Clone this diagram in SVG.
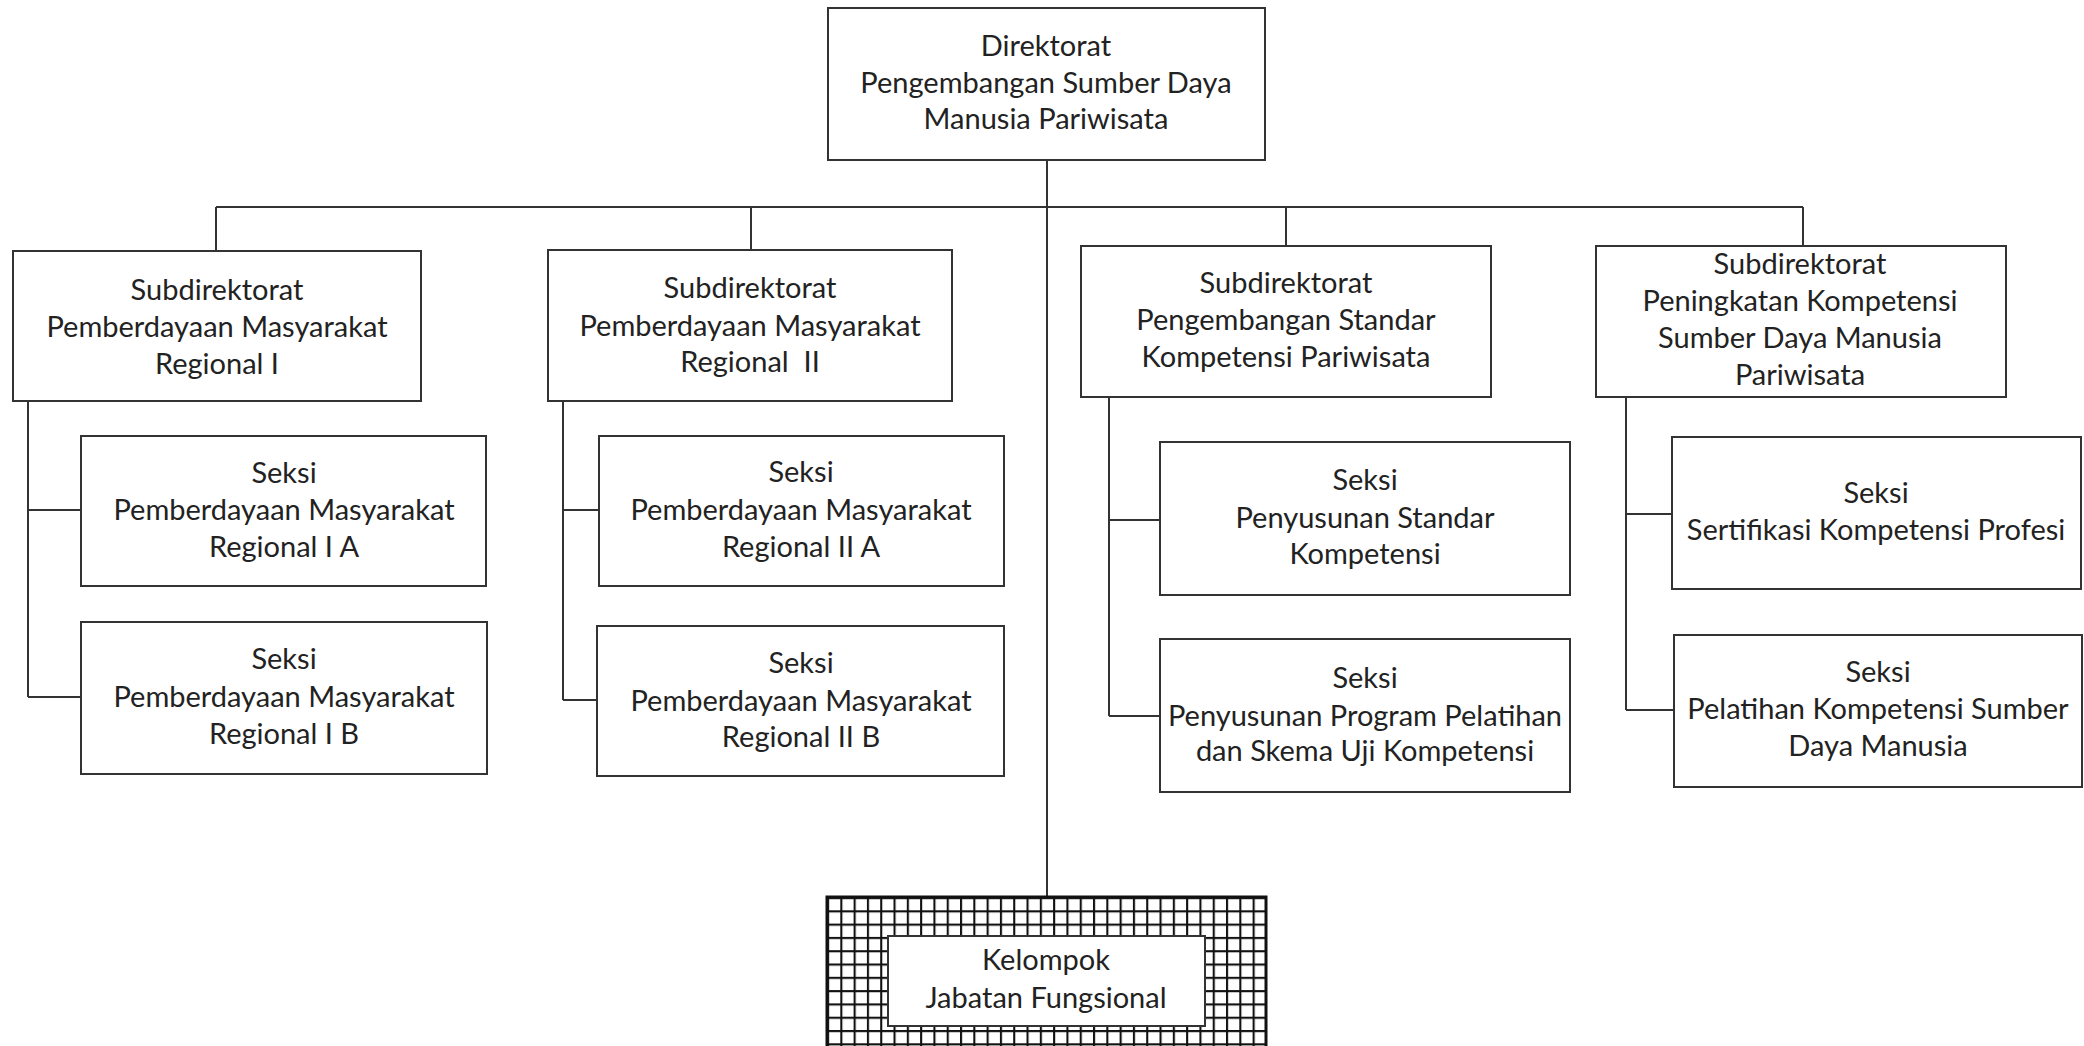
<svg xmlns="http://www.w3.org/2000/svg" width="2084" height="1046" viewBox="0 0 2084 1046">
<style>
.box{fill:#fff;stroke:#333;stroke-width:2}
.t{font-family:Lato,"Liberation Sans",sans-serif;font-size:29px;fill:#222;text-anchor:middle}
.c{stroke:#333;stroke-width:2;fill:none}
</style>
<defs>
<pattern id="grid" patternUnits="userSpaceOnUse" x="827" y="897" width="13.3" height="13.3">
<rect width="13.3" height="13.3" fill="#fff"/>
<path d="M1 0V13.3M0 1H13.3" stroke="#111" stroke-width="2.2" fill="none"/>
</pattern>
</defs>
<rect width="2084" height="1046" fill="#fff"/>
<g id="connectors" class="c">
<path d="M1047 160V897"/>
<path d="M216 207H1803"/>
<path d="M216 207V251M751 207V250M1286 207V246M1803 207V246"/>
<path d="M28 401V697M28 510H81M28 697H81"/>
<path d="M563 401V700M563 510H599M563 700H597"/>
<path d="M1109 397V716M1109 520H1160M1109 716H1160"/>
<path d="M1626 397V710M1626 514H1672M1626 710H1674"/>
</g>
<g id="direktorat">
<rect class="box" x="828" y="8" width="437" height="152"/>
<text class="t" x="1046" y="56">Direktorat</text>
<text class="t" x="1046" y="93">Pengembangan Sumber Daya</text>
<text class="t" x="1046" y="129">Manusia Pariwisata</text>
</g>
<g id="subdir1">
<rect class="box" x="13" y="251" width="408" height="150"/>
<text class="t" x="217" y="300">Subdirektorat</text>
<text class="t" x="217" y="337">Pemberdayaan Masyarakat</text>
<text class="t" x="217" y="374">Regional I</text>
</g>
<g id="seksi1a">
<rect class="box" x="81" y="436" width="405" height="150"/>
<text class="t" x="284" y="483">Seksi</text>
<text class="t" x="284" y="520">Pemberdayaan Masyarakat</text>
<text class="t" x="284" y="557">Regional I A</text>
</g>
<g id="seksi1b">
<rect class="box" x="81" y="622" width="406" height="152"/>
<text class="t" x="284" y="669">Seksi</text>
<text class="t" x="284" y="707">Pemberdayaan Masyarakat</text>
<text class="t" x="284" y="744">Regional I B</text>
</g>
<g id="subdir2">
<rect class="box" x="548" y="250" width="404" height="151"/>
<text class="t" x="750" y="298">Subdirektorat</text>
<text class="t" x="750" y="336">Pemberdayaan Masyarakat</text>
<text class="t" x="750" y="372" xml:space="preserve">Regional  II</text>
</g>
<g id="seksi2a">
<rect class="box" x="599" y="436" width="405" height="150"/>
<text class="t" x="801" y="482">Seksi</text>
<text class="t" x="801" y="520">Pemberdayaan Masyarakat</text>
<text class="t" x="801" y="557">Regional II A</text>
</g>
<g id="seksi2b">
<rect class="box" x="597" y="626" width="407" height="150"/>
<text class="t" x="801" y="673">Seksi</text>
<text class="t" x="801" y="711">Pemberdayaan Masyarakat</text>
<text class="t" x="801" y="747">Regional II B</text>
</g>
<g id="subdir3">
<rect class="box" x="1081" y="246" width="410" height="151"/>
<text class="t" x="1286" y="293">Subdirektorat</text>
<text class="t" x="1286" y="330">Pengembangan Standar</text>
<text class="t" x="1286" y="367">Kompetensi Pariwisata</text>
</g>
<g id="seksi3a">
<rect class="box" x="1160" y="442" width="410" height="153"/>
<text class="t" x="1365" y="490">Seksi</text>
<text class="t" x="1365" y="528">Penyusunan Standar</text>
<text class="t" x="1365" y="564">Kompetensi</text>
</g>
<g id="seksi3b">
<rect class="box" x="1160" y="639" width="410" height="153"/>
<text class="t" x="1365" y="688">Seksi</text>
<text class="t" x="1365" y="726">Penyusunan Program Pelatihan</text>
<text class="t" x="1365" y="761">dan Skema Uji Kompetensi</text>
</g>
<g id="subdir4">
<rect class="box" x="1596" y="246" width="410" height="151"/>
<text class="t" x="1800" y="274">Subdirektorat</text>
<text class="t" x="1800" y="311">Peningkatan Kompetensi</text>
<text class="t" x="1800" y="348">Sumber Daya Manusia</text>
<text class="t" x="1800" y="385">Pariwisata</text>
</g>
<g id="seksi4a">
<rect class="box" x="1672" y="437" width="409" height="152"/>
<text class="t" x="1876" y="503">Seksi</text>
<text class="t" x="1876" y="540">Sertifikasi Kompetensi Profesi</text>
</g>
<g id="seksi4b">
<rect class="box" x="1674" y="635" width="408" height="152"/>
<text class="t" x="1878" y="682">Seksi</text>
<text class="t" x="1878" y="719">Pelatihan Kompetensi Sumber</text>
<text class="t" x="1878" y="756">Daya Manusia</text>
</g>
<g id="kelompok">
<rect x="827" y="897" width="439" height="170" fill="url(#grid)" stroke="#111" stroke-width="3"/>
<rect class="box" x="888" y="936" width="317" height="90"/>
<text class="t" x="1046" y="970">Kelompok</text>
<text class="t" x="1046" y="1008">Jabatan Fungsional</text>
</g>
</svg>
